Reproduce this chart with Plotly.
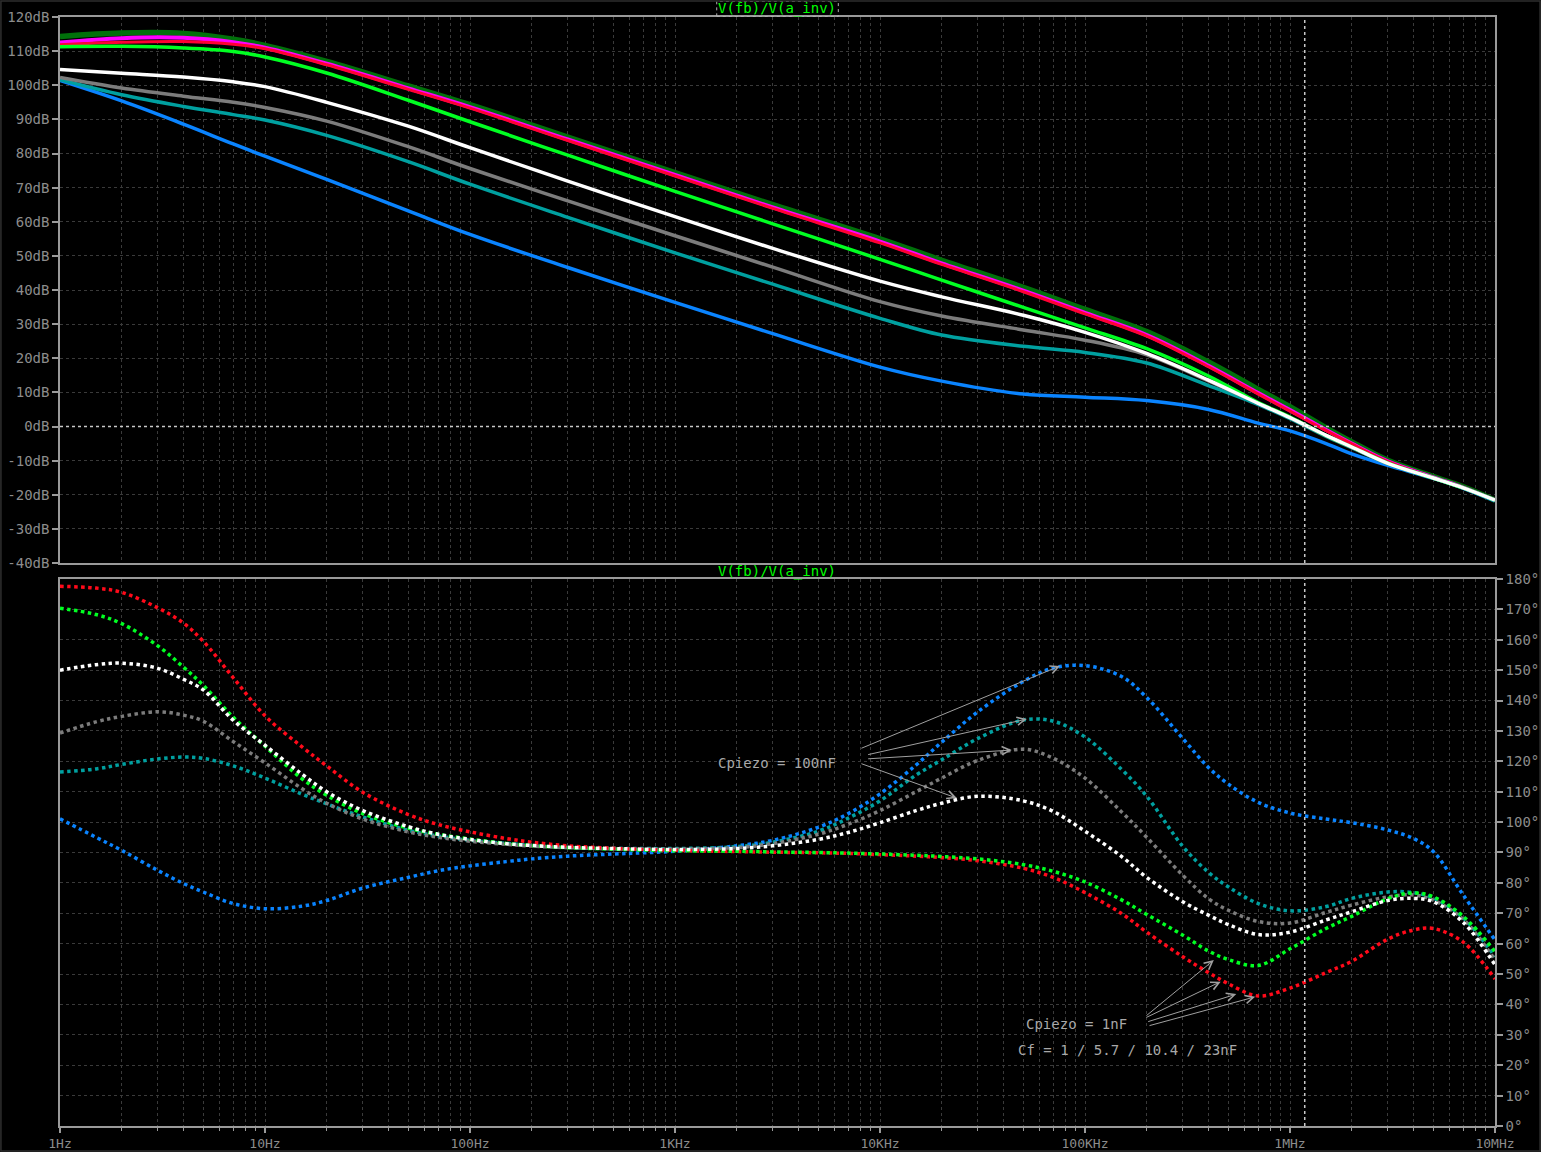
import math
import plotly.graph_objects as go

# Bode plot of V(fb)/V(a_inv), stepped over Cpiezo / Cf
# magnitude curves (dB) read off at these frequencies (Hz)
mag_freq = [1, 2, 4, 7, 10, 20, 50, 100, 300, 1e3, 3e3, 1e4, 2e4, 5e4, 1e5, 2e5, 4e5, 7e5,
            1e6, 1.5e6, 2e6, 3e6, 5e6, 7e6, 1e7]
mag_darkgreen = [114.3, 115.3, 115.2, 113.5, 111.7, 107.0, 99.8, 94.3, 84.8, 74.4, 65.0, 55.0, 48.7,
                 40.8, 34.3, 27.8, 18.9, 10.9, 5.8, -0.4, -4.5, -9.9, -14.7, -17.7, -21.6]
mag_magenta = [112.5, 113.8, 113.9, 112.6, 111.0, 106.3, 99.1, 93.6, 84.1, 73.7, 64.2, 54.2, 47.8,
               39.8, 33.3, 26.8, 17.8, 9.8, 4.8, -1.0, -5.0, -10.2, -14.9, -17.9, -21.6]
mag_red = [111.9, 112.6, 112.8, 112.0, 110.7, 106.0, 98.8, 93.3, 83.8, 73.4, 63.9, 53.8, 47.5,
           39.5, 33.0, 26.5, 17.5, 9.5, 4.5, -1.2, -5.1, -10.3, -15.0, -17.9, -21.6]
mag_green = [111.3, 111.4, 110.9, 109.9, 108.3, 103.6, 95.6, 89.3, 79.5, 68.9, 59.4, 49.0, 42.9,
             34.9, 28.9, 22.8, 14.8, 7.0, 2.8, -2.6, -6.0, -10.7, -15.1, -18.0, -21.6]
mag_white = [104.6, 103.5, 102.4, 101.0, 99.6, 95.0, 88.0, 81.7, 71.9, 61.5, 52.2, 42.6, 38.0,
             32.6, 27.6, 21.4, 13.6, 6.8, 2.6, -2.6, -6.0, -10.8, -15.1, -18.0, -21.6]
mag_gray = [102.3, 99.2, 96.8, 95.0, 93.5, 89.5, 82.0, 75.6, 66.1, 55.9, 46.7, 36.6, 32.4,
            28.3, 25.3, 21.0, 13.4, 6.8, 2.6, -2.7, -6.1, -10.8, -15.1, -18.0, -21.6]
mag_teal = [101.6, 97.2, 93.8, 91.4, 89.8, 85.3, 77.6, 71.0, 61.3, 50.9, 41.7, 31.7, 26.8,
            23.5, 21.7, 18.6, 12.0, 6.4, 2.3, -2.9, -6.2, -10.9, -15.1, -18.0, -21.6]
mag_blue = [101.4, 95.4, 88.6, 82.8, 79.2, 72.4, 63.2, 56.3, 46.6, 36.4, 27.2, 17.4, 13.3,
            9.5, 8.6, 7.6, 5.0, 1.0, -1.3, -5.0, -8.0, -11.4, -15.2, -18.1, -21.8]

# phase curves (degrees)
phase_freq = [1, 1.5, 2, 3, 4, 5, 7, 10, 15, 20, 30, 50, 70, 100, 150, 200, 300, 500, 700,
              1e3, 2e3, 3e3, 5e3, 7e3, 1e4, 1.5e4, 2e4, 3e4, 5e4, 7e4, 1e5, 1.5e5, 2e5, 3e5,
              4e5, 5e5, 7e5, 1e6, 1.5e6, 2e6, 3e6, 4e6, 5e6, 7e6, 1e7]
phase_red = [177.6, 177.0, 175.6, 170.5, 165.5, 159.5, 147.5, 135.0, 125.0, 118.5, 109.8, 102.5,
             99.2, 96.8, 94.6, 93.4, 92.2, 91.4, 91.0, 90.7, 90.3, 90.1, 89.9, 89.7, 89.3, 88.8,
             88.3, 87.3, 84.8, 81.8, 76.8, 70.0, 63.8, 55.7, 50.5, 46.8, 42.8, 45.4, 50.5, 54.2,
             61.5, 64.5, 65.0, 60.5, 48.4]
phase_green = [170.4, 168.3, 165.3, 158.0, 151.0, 145.0, 134.5, 125.0, 114.5, 108.8, 102.8, 98.0,
               96.0, 94.4, 93.0, 92.3, 91.6, 91.1, 90.8, 90.6, 90.4, 90.2, 90.0, 89.8, 89.5, 89.1,
               88.7, 87.9, 86.0, 83.8, 80.3, 74.5, 69.6, 62.8, 57.6, 54.8, 52.8, 58.3, 65.0, 69.0,
               74.8, 76.7, 75.4, 69.0, 57.4]
phase_white = [150.0, 151.8, 152.3, 150.6, 147.0, 143.5, 133.5, 125.3, 116.0, 110.0, 103.8, 98.5,
               96.0, 94.3, 92.9, 92.3, 91.7, 91.3, 91.1, 91.0, 91.3, 92.2, 94.3, 96.6, 99.8, 103.8,
               106.2, 108.5, 107.0, 103.5, 97.0, 88.8, 81.8, 73.8, 69.4, 66.3, 63.0, 63.8, 67.8,
               70.5, 74.2, 74.9, 73.8, 67.0, 53.0]
phase_gray = [129.3, 133.0, 134.8, 136.3, 135.2, 133.2, 126.5, 119.5, 111.2, 106.2, 101.0, 96.8,
              95.0, 93.7, 92.7, 92.1, 91.6, 91.2, 91.1, 91.1, 91.6, 92.9, 96.0, 99.3, 103.8, 110.0,
              114.5, 120.3, 124.0, 121.0, 114.5, 103.5, 95.0, 82.5, 74.8, 71.0, 67.3, 66.8, 70.3,
              72.7, 75.4, 76.0, 74.3, 68.0, 54.6]
phase_teal = [116.5, 117.5, 119.0, 120.8, 121.4, 121.0, 118.5, 114.5, 109.3, 106.0, 101.7, 97.3,
              95.4, 94.0, 93.0, 92.4, 91.8, 91.4, 91.3, 91.3, 91.9, 93.4, 97.0, 101.3, 107.0, 115.5,
              120.5, 127.5, 133.6, 133.2, 128.0, 117.5, 108.5, 92.0, 83.5, 78.7, 73.2, 70.8, 72.2,
              74.9, 77.0, 76.8, 75.0, 68.5, 55.7]
phase_blue = [101.1, 95.0, 90.7, 84.1, 79.8, 77.0, 73.2, 71.5, 72.3, 74.2, 78.3, 81.8, 84.0, 85.6,
              87.0, 87.9, 88.8, 89.5, 89.9, 90.4, 92.2, 94.0, 98.3, 102.8, 109.3, 118.8, 126.3,
              136.3, 146.3, 150.7, 151.5, 148.0, 141.0, 127.5, 118.0, 112.5, 106.5, 103.0, 101.0,
              99.8, 97.4, 94.6, 90.3, 76.0, 61.2]

db_ticks = list(range(-40, 130, 10))
db_labels = [str(v) + "dB" for v in db_ticks]
deg_ticks = list(range(0, 190, 10))
deg_labels = [str(v) + "°" for v in deg_ticks]
freq_ticks = [1, 10, 100, 1e3, 1e4, 1e5, 1e6, 1e7]
freq_labels = ["1Hz", "10Hz", "100Hz", "1KHz", "10KHz", "100KHz", "1MHz", "10MHz"]
minor_ticks = [k * 10 ** d for d in range(7) for k in range(2, 10)]
cursor_freq = 1.18e6

# annotation arrows: (tail freq, tail deg, head freq, head deg)
arrows_100n = [(7.98e3, 124.1, 75.5e3, 151.4), (8.61e3, 122.1, 52.0e3, 133.9),
               (8.61e3, 120.8, 43.9e3, 123.7), (7.98e3, 119.4, 23.7e3, 107.9)]
arrows_1n = [(196e3, 35.9, 425e3, 54.6), (196e3, 35.5, 459e3, 47.5),
             (200e3, 34.2, 547e3, 43.4), (203e3, 32.9, 676e3, 42.5)]

FONT = "DejaVu Sans Mono"
GRID = "#3a3a3a"
FRAME = "#9a9a9a"
TXT = "#8c8c8c"

fig = go.Figure()

mag_traces = [(mag_darkgreen, "#00700a", 5.5), (mag_magenta, "#ff00ff", 4), (mag_red, "#ff0033", 3),
              (mag_blue, "#0a84ff", 3.5), (mag_teal, "#00a0a0", 3.5), (mag_gray, "#7c7c7c", 3.5),
              (mag_green, "#00ff22", 3.5), (mag_white, "#ffffff", 3.5)]
for vals, col, w in mag_traces:
    fig.add_trace(go.Scatter(x=mag_freq, y=vals, mode="lines", xaxis="x", yaxis="y",
                             line=dict(color=col, width=w, shape="spline", smoothing=1.0)))

phase_traces = [(phase_blue, "#0a84ff"), (phase_teal, "#00a0a0"), (phase_gray, "#7c7c7c"),
                (phase_red, "#ff0a1a"), (phase_green, "#00ff22"), (phase_white, "#ffffff")]
for vals, col in phase_traces:
    fig.add_trace(go.Scatter(x=phase_freq, y=vals, mode="lines", xaxis="x2", yaxis="y2",
                             line=dict(color=col, width=3.5, dash="dot", shape="spline", smoothing=1.0)))

grid_common = dict(showgrid=True, gridcolor=GRID, griddash="3px,3px", gridwidth=1, automargin=False,
                   showline=True, mirror=True, linecolor=FRAME, linewidth=1.5, zeroline=False)
minor_common = dict(tickvals=minor_ticks, showgrid=True, gridcolor=GRID, griddash="3px,3px",
                    gridwidth=1)

fig.update_layout(
    width=1541, height=1152,
    paper_bgcolor="black", plot_bgcolor="black",
    margin=dict(l=0, r=0, t=0, b=0, pad=0),
    showlegend=False, hovermode=False,
    font=dict(family=FONT, size=14, color=TXT),
    xaxis=dict(type="log", range=[0, 7], domain=[0.038936, 0.970149], anchor="y",
               tickvals=freq_ticks, showticklabels=False, ticks="",
               minor=dict(ticks="", **minor_common), **grid_common),
    yaxis=dict(range=[-40, 120], domain=[0.51128, 0.98524], anchor="x",
               tickvals=db_ticks, ticktext=db_labels, ticks="outside", ticklen=6,
               tickcolor=FRAME, tickwidth=1.5, **grid_common),
    xaxis2=dict(type="log", range=[0, 7], domain=[0.038936, 0.970149], anchor="y2",
                tickvals=freq_ticks, ticktext=freq_labels, ticks="outside", ticklen=5,
                tickcolor=FRAME, tickwidth=1.5, tickfont=dict(size=13),
                minor=dict(ticks="outside", ticklen=3, tickcolor=FRAME, tickwidth=1, **minor_common),
                **grid_common),
    yaxis2=dict(range=[0, 180], domain=[0.02257, 0.49740], anchor="x2", side="right",
                tickvals=deg_ticks, ticktext=deg_labels, ticks="outside", ticklen=6,
                tickcolor=FRAME, tickwidth=1.5, **grid_common),
)

# 0 dB reference, cursor lines, title box, outer frame
fig.add_shape(type="line", xref="x domain", yref="y", x0=0, x1=1, y0=0, y1=0,
              line=dict(color="#c8c8c8", width=1.5, dash="dot"))
fig.add_shape(type="line", xref="x", yref="y domain", x0=cursor_freq, x1=cursor_freq, y0=0, y1=1,
              line=dict(color="#c8c8c8", width=1.5, dash="dot"))
fig.add_shape(type="line", xref="x2", yref="y2 domain", x0=cursor_freq, x1=cursor_freq, y0=0, y1=1,
              line=dict(color="#c8c8c8", width=1.5, dash="dot"))
fig.add_shape(type="rect", xref="paper", yref="paper", x0=0.4651, x1=0.5440, y0=0.98568, y1=0.9987,
              line=dict(color="#b0b0b0", width=1, dash="dot"))
fig.add_shape(type="rect", xref="paper", yref="paper", x0=0.0006, x1=0.9994, y0=0.0008, y1=0.9992,
              line=dict(color="#2e2e2e", width=1.5))

title_font = dict(family=FONT, size=14, color="#00ff00")
fig.add_annotation(text="V(fb)/V(a_inv)", xref="paper", yref="paper", x=0.5045, y=0.9922,
                   xanchor="center", yanchor="middle", showarrow=False, font=title_font)
fig.add_annotation(text="V(fb)/V(a_inv)", xref="paper", yref="paper", x=0.5045, y=0.5035,
                   xanchor="center", yanchor="middle", showarrow=False, font=title_font)

note_font = dict(family=FONT, size=14, color="#a8a8a8")
fig.add_annotation(text="Cpiezo = 100nF", xref="x2", yref="y2", x=math.log10(3.15e3), y=119.4,
                   showarrow=False, font=note_font)
fig.add_annotation(text="Cpiezo = 1nF", xref="x2", yref="y2", x=math.log10(91.4e3), y=33.6,
                   showarrow=False, font=note_font)
fig.add_annotation(text="Cf = 1 / 5.7 / 10.4 / 23nF", xref="x2", yref="y2", x=math.log10(162e3), y=25,
                   showarrow=False, font=note_font)

for tf, td, hf, hd in arrows_100n + arrows_1n:
    fig.add_annotation(text="", xref="x2", yref="y2", axref="x2", ayref="y2",
                       x=math.log10(hf), y=hd, ax=math.log10(tf), ay=td,
                       showarrow=True, arrowhead=5, arrowsize=1.6, arrowwidth=1, arrowcolor="#a0a0a0")

# page body margin off, so the 1541x1152 figure fills the window
fig.write_html("out.html", config={"displayModeBar": False},
               post_script="document.body.style.margin = '0px';")
